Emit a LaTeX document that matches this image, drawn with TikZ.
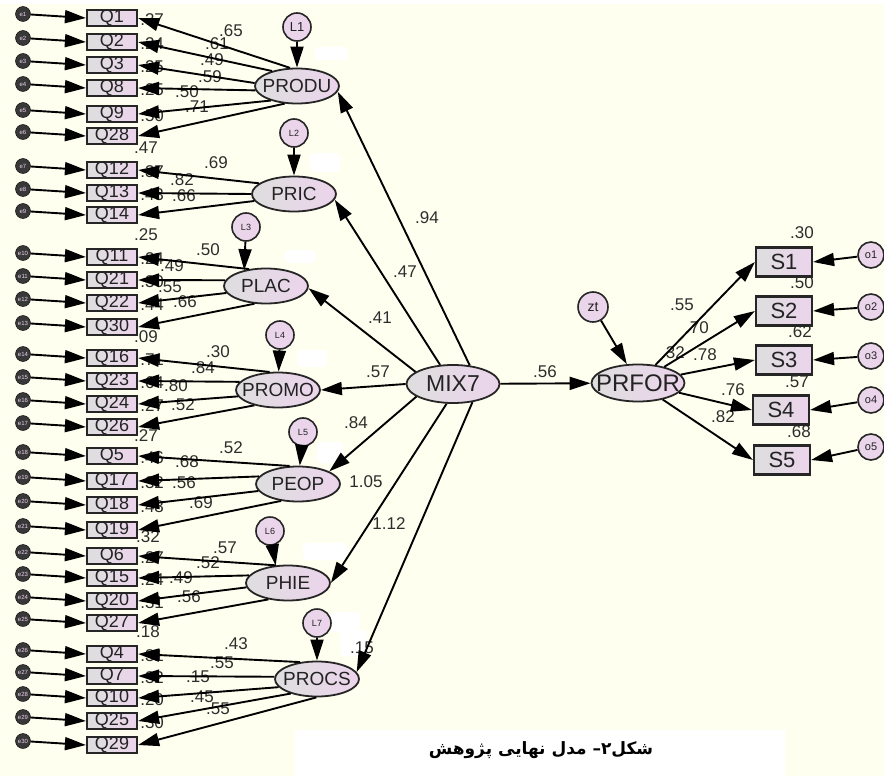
\documentclass[tikz,border=0pt]{standalone}
\usepackage{fontspec}
\setmainfont{Liberation Sans}
\newfontfamily\arabicfont[Script=Arabic]{DejaVu Sans}
\TeXXeTstate=1
\usetikzlibrary{arrows.meta,shapes.geometric}
\definecolor{bgc}{RGB}{255,255,240}
\definecolor{pk}{RGB}{236,212,236}
\definecolor{gy}{RGB}{222,222,222}
\definecolor{txt}{RGB}{35,35,35}
\definecolor{num}{RGB}{45,45,45}
\tikzset{
 obs/.style={draw=black!85, line width=2.2pt, left color=gy, right color=pk, minimum width=50pt, minimum height=16pt, inner sep=0pt, font=\fontsize{18}{18}\selectfont, text=txt},
 sbox/.style={obs, minimum width=56pt, minimum height=29pt, font=\fontsize{22}{22}\selectfont},
 lat/.style={ellipse, draw=black!85, line width=1.8pt, left color=gy, right color=pk, minimum width=84pt, minimum height=35pt, inner sep=0pt, font=\fontsize{19}{19}\selectfont, text=txt},
 errc/.style={circle, draw=black, fill=black!78, minimum size=15pt, inner sep=0pt, font=\fontsize{6}{6}\selectfont, text=pk},
 resid/.style={circle, draw=black!85, line width=1.6pt, left color=pk!80!gy, right color=pk, minimum size=28pt, inner sep=0pt, font=\fontsize{9}{9}\selectfont, text=txt},
 val/.style={font=\fontsize{17}{17}\selectfont, text=num, inner sep=0pt},
 arr/.style={line width=1.9pt, draw=black, -{Triangle[length=21pt,width=13pt]}},
 patch/.style={fill=white, rounded corners=4pt},
}
\begin{document}
\begin{tikzpicture}[x=1pt,y=-1pt]
\useasboundingbox (0,0) rectangle (884,776);
\fill[bgc] (0,0) rectangle (884,776);
\fill[white] (0,0) rectangle (884,4);
% white patches
\fill[patch] (315,47) rectangle (348,60);
\fill[patch] (310,153) rectangle (340,172);
\fill[patch] (285,250) rectangle (315,263);
\fill[patch] (297,350) rectangle (327,367);
\fill[patch] (317,442) rectangle (343,463);
\fill[patch] (303,543) rectangle (347,560);
\fill[patch] (330,612) rectangle (360,632);
\fill[patch] (340,630) rectangle (367,656);
% caption box
\fill[white] (295,730) rectangle (785,776);
\node[font=\arabicfont\bfseries\fontsize{17}{17}\selectfont, text=black] (cap) at (541,750) {\beginR شکل۲– مدل نهایی پژوهش\endR};

% observed boxes with error circles
\foreach \n/\y [count=\i] in {Q1/18,Q2/42,Q3/65,Q8/88,Q9/114,Q28/136,Q12/170,Q13/193,Q14/215,Q11/257,Q21/280,Q22/303,Q30/327,Q16/358,Q23/381,Q24/404,Q26/427,Q5/456,Q17/481,Q18/505,Q19/530,Q6/556,Q15/578,Q20/601,Q27/623,Q4/654,Q7/676,Q10/698,Q25/721,Q29/745}{
  \node[obs] (\n) at (112,\y) {\n};
  \node[errc] (e\i) at (23,{\y-4}) {e\i};
}
% R^2 values beside boxes
\foreach \n/\v in {Q1/.37,Q2/.24,Q3/.25,Q8/.25,Q9/.50,Q12/.37,Q13/.43,Q11/.24,Q21/.30,Q22/.44,Q16/.71,Q23/.64,Q24/.27,Q5/.46,Q17/.32,Q18/.48,Q6/.27,Q15/.24,Q20/.31,Q4/.31,Q7/.32,Q10/.20,Q25/.30}{
  \node[val, anchor=west] (r\n) at ([shift={(2,2)}]\n.east) {\v};
}
% free-standing values
\foreach \x/\y/\v [count=\i] in {
 146/148/.47, 146/235/.25, 146/337/.09, 146/436/.27, 148/537/.32, 148/632/.18,
 231/31/.65, 217/44/.61, 212/60/.49, 210/77/.59, 187/92/.50, 197/107/.71,
 216/163/.69, 182/180/.82, 184/196/.66,
 208/250/.50, 172/266/.49, 170/287/.55, 185/302/.66,
 218/352/.30, 203/368/.84, 176/386/.80, 183/405/.52,
 231/448/.52, 187/462/.68, 184/483/.56, 201/503/.69,
 225/548/.57, 208/563/.52, 181/578/.49, 189/597/.56,
 236/644/.43, 222/663/.55, 198/677/.15, 202/697/.45, 218/709/.55,
 427/218/.94, 405/272/.47, 380/318/.41, 378/372/.57, 356/423/.84, 366/482/1.05, 389/524/1.12, 362/648/.15, 545/372/.56,
 682/305/.55, 697/328/.70, 673/353/.32, 705/355/.78, 733/390/.76, 723/417/.82,
 802/233/.30, 802/283/.50, 800/332/.62, 797/382/.57, 799/432/.68}{
  \node[val] (v\i) at (\x,\y) {\v};
}

% latent variables
\node[lat] (PRODU) at (297,86) {\makebox[0pt]{PRODU}};
\node[lat] (PRIC) at (294,194) {\makebox[0pt]{PRIC}};
\node[lat] (PLAC) at (266,286) {\makebox[0pt]{PLAC}};
\node[lat] (PROMO) at (278,390) {\makebox[0pt]{PROMO}};
\node[lat] (PEOP) at (298,484) {\makebox[0pt]{PEOP}};
\node[lat] (PHIE) at (288,583) {\makebox[0pt]{PHIE}};
\node[lat] (PROCS) at (317,679) {\makebox[0pt]{PROCS}};
\node[lat, minimum width=93pt, minimum height=38pt, font=\fontsize{23}{23}\selectfont] (MIX7) at (453,384) {\makebox[0pt]{MIX7}};
\node[lat, minimum width=93pt, minimum height=37pt, font=\fontsize{24}{24}\selectfont] (PRFOR) at (638,383) {\makebox[0pt]{PRFOR}};

% disturbances
\node[resid, font=\fontsize{13}{13}\selectfont] (L1) at (297,27) {L1};
\node[resid] (L2) at (294,133) {L2};
\node[resid] (L3) at (246,227) {L3};
\node[resid] (L4) at (280,335) {L4};
\node[resid] (L5) at (303,432) {L5};
\node[resid] (L6) at (270,531) {L6};
\node[resid] (L7) at (317,623) {L7};
\node[resid, minimum size=30pt, font=\fontsize{14}{14}\selectfont] (zt) at (593,307) {zt};

% outcome boxes
\node[sbox] (S1) at (784,262) {S1};
\node[sbox] (S2) at (784,311) {S2};
\node[sbox] (S3) at (784,360) {S3};
\node[sbox] (S4) at (781,410) {S4};
\node[sbox] (S5) at (782,460) {S5};
\foreach \i/\y in {1/255,2/307,3/356,4/400,5/447}{
  \node[resid, minimum size=26pt, font=\fontsize{11}{11}\selectfont] (o\i) at (871,\y) {o\i};
}

% arrows from error circles
\foreach \n [count=\i] in {Q1,Q2,Q3,Q8,Q9,Q28,Q12,Q13,Q14,Q11,Q21,Q22,Q30,Q16,Q23,Q24,Q26,Q5,Q17,Q18,Q19,Q6,Q15,Q20,Q27,Q4,Q7,Q10,Q25,Q29}{
  \draw[arr] (e\i) -- (\n.west);
}
% loadings
\foreach \l/\n/\a in {PRODU/Q1/111, PRODU/Q2/149, PRODU/Q3/176, PRODU/Q8/186, PRODU/Q9/209, PRODU/Q28/235,
  PRIC/Q12/163, PRIC/Q13/180, PRIC/Q14/190,
  PLAC/Q11/135, PLAC/Q21/172, PLAC/Q22/190, PLAC/Q30/237,
  PROMO/Q16/115, PROMO/Q23/168, PROMO/Q24/189, PROMO/Q26/213,
  PEOP/Q5/115, PEOP/Q17/169, PEOP/Q18/190, PEOP/Q19/225,
  PHIE/Q6/124, PHIE/Q15/169, PHIE/Q20/186, PHIE/Q27/220,
  PROCS/Q4/135, PROCS/Q7/177, PROCS/Q10/192, PROCS/Q25/209, PROCS/Q29/268}{
  \draw[arr] (\l.\a) -- (\n.east);
}
% disturbance arrows
\draw[arr] (L1) -- (PRODU);
\draw[arr] (L2) -- (PRIC);
\draw[arr] (L3) -- (PLAC.144);
\draw[arr] (L4) -- (PROMO);
\draw[arr] (L5) -- (PEOP);
\draw[arr] (L6) -- (PHIE.125);
\draw[arr] (L7) -- (PROCS);
\draw[arr] (zt) -- (PRFOR);
% structural paths
\draw[arr] (MIX7.48) -- (PRODU.-8);
\draw[arr] (MIX7.124) -- (PRIC.-8);
\draw[arr] (MIX7.162) -- (PLAC.-3);
\draw[arr] (MIX7.west) -- (PROMO.east);
\draw[arr] (MIX7.199) -- (PEOP.22);
\draw[arr] (MIX7.252) -- (PHIE.0);
\draw[arr] (MIX7.-43) -- (PROCS.10);
\draw[arr] (MIX7) -- (PRFOR);
% outcome paths
\foreach \s in {S1,S2,S3,S4,S5}{
  \draw[arr] (PRFOR) -- (\s.west);
}
\foreach \i in {1,...,5}{
  \draw[arr] (o\i) -- (S\i.east);
}
\end{tikzpicture}
\end{document}
